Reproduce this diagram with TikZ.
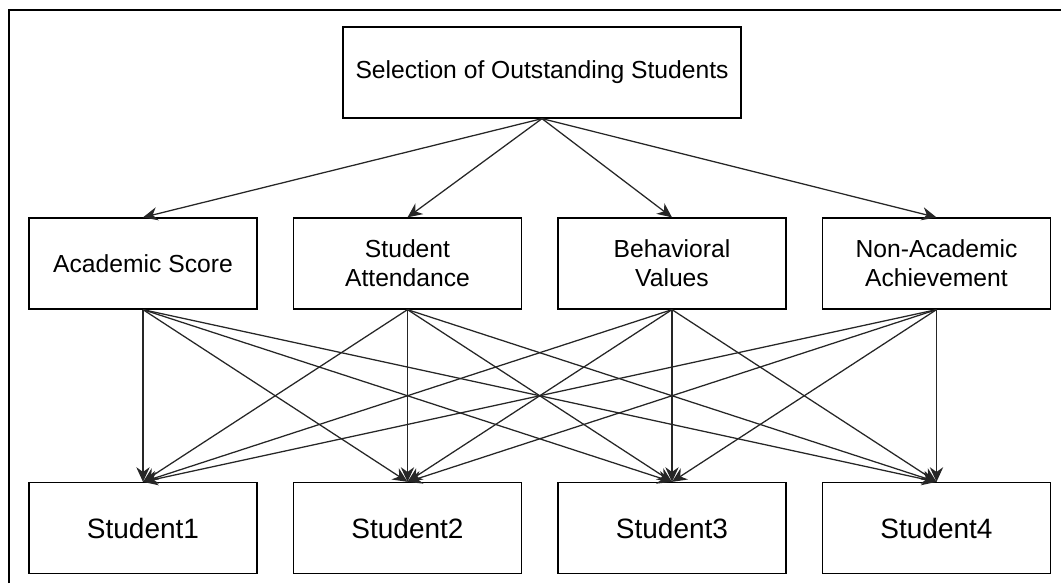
\documentclass[tikz,border=0pt]{standalone}
\usepackage{fontspec}
\setmainfont{Liberation Sans}
\usetikzlibrary{arrows.meta}

\tikzset{
    box/.style={shape=rectangle,draw=black,line width=1.2pt,inner sep=0pt,align=center,
        minimum width=171pt,minimum height=68pt,font=\fontsize{18.5}{21.5}\selectfont},
    pick/.style={box,font=\fontsize{21}{25}\selectfont},
    link/.style={draw=black!85,line width=0.95pt,-{Stealth[length=11pt,width=10pt]}}
}

\begin{document}
\begin{tikzpicture}[x=0.75pt,y=-0.75pt]
    \useasboundingbox (0,0) rectangle (1061,583);
    \draw[line width=1.5pt] (9,583) -- (9,10) -- (1061,10);

    \node[box,minimum width=298.5pt] (T) at (542,72.5) {\raisebox{2pt}{Selection of Outstanding Students}};
    \node[box] (A) at (143,263.5) {Academic Score};
    \node[box] (B) at (407.5,263.5) {Student\\Attendance};
    \node[box] (C) at (672,263.5) {Behavioral\\Values};
    \node[box] (D) at (936.5,263.5) {Non-Academic\\Achievement};
    \node[pick] (E) at (143,528) {Student1};
    \node[pick] (F) at (407.5,528) {Student2};
    \node[pick] (G) at (672,528) {Student3};
    \node[pick] (H) at (936.5,528) {Student4};

    \draw[link] (T.south) -- (A.north);
    \draw[link] (T.south) -- (B.north);
    \draw[link] (T.south) -- (C.north);
    \draw[link] (T.south) -- (D.north);

    \draw[link] (A.south) -- (E.north);
    \draw[link] (A.south) -- (F.north);
    \draw[link] (A.south) -- (G.north);
    \draw[link] (A.south) -- (H.north);
    \draw[link] (B.south) -- (E.north);
    \draw[link] (B.south) -- (F.north);
    \draw[link] (B.south) -- (G.north);
    \draw[link] (B.south) -- (H.north);
    \draw[link] (C.south) -- (E.north);
    \draw[link] (C.south) -- (F.north);
    \draw[link] (C.south) -- (G.north);
    \draw[link] (C.south) -- (H.north);
    \draw[link] (D.south) -- (E.north);
    \draw[link] (D.south) -- (F.north);
    \draw[link] (D.south) -- (G.north);
    \draw[link] (D.south) -- (H.north);
\end{tikzpicture}
\end{document}
